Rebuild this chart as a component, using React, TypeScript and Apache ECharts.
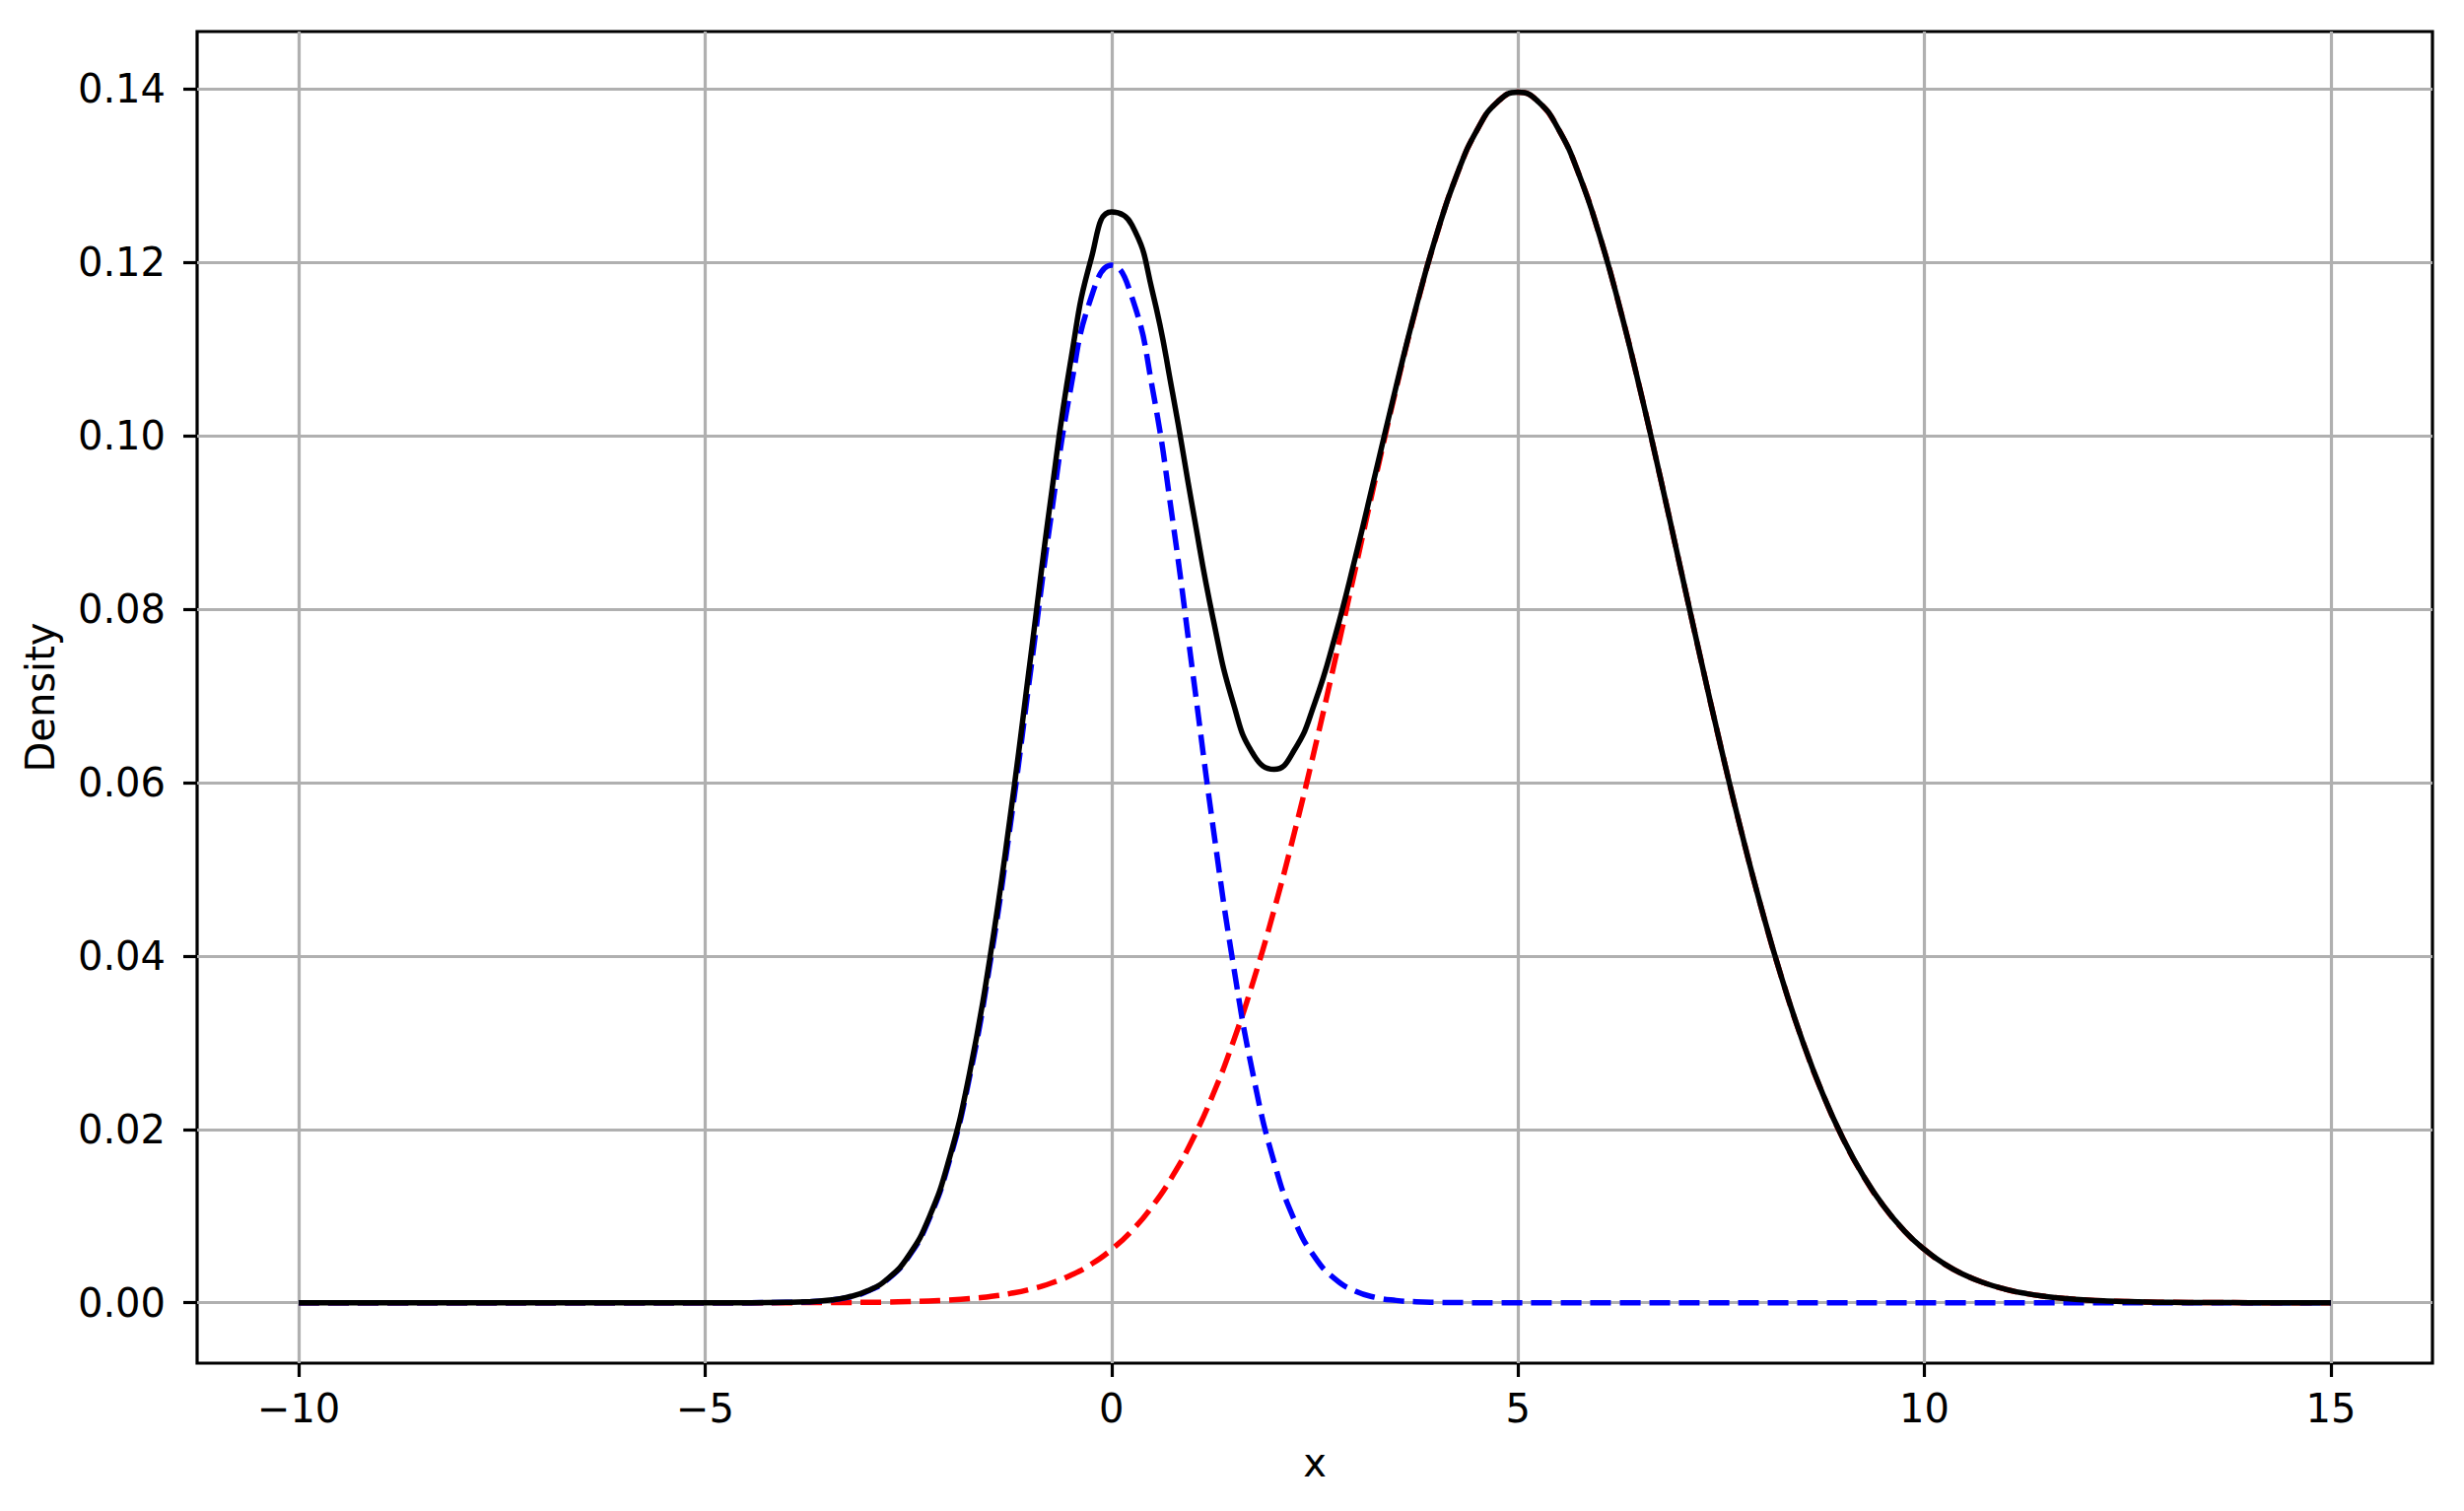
import { useEffect, useRef } from "react";
import * as echarts from "echarts";

const xs = [
  -10, -9, -8, -7, -6, -5, -4.5,
  -4, -3.75, -3.5, -3.25, -3, -2.75, -2.5, -2.25, -2, -1.75, -1.5, -1.25, -1,
  -0.75, -0.5, -0.25, 0, 0.25, 0.5, 0.75, 1, 1.25, 1.5, 1.75, 2, 2.25, 2.5,
  2.75, 3, 3.25, 3.5, 3.75, 4, 4.25, 4.5, 4.75, 5, 5.25, 5.5, 5.75, 6, 6.25,
  6.5, 6.75, 7, 7.25, 7.5, 7.75, 8, 8.25, 8.5, 8.75, 9, 9.25, 9.5, 9.75, 10,
  10.25, 10.5, 10.75, 11, 11.25, 11.5, 11.75, 12, 12.25, 12.5, 12.75, 13,
  13.5, 14, 14.5, 15,
];

// blue dashed component (peak near x = 0)
const blueComp = [
  0, 0, 0, 0, 0, 0, 0.000005,
  0.00004, 0.000106, 0.000262, 0.000609, 0.00133, 0.00273, 0.00526, 0.00952,
  0.0162, 0.02588, 0.03886, 0.05479, 0.07259, 0.09034, 0.10562, 0.116,
  0.11968, 0.116, 0.10562, 0.09034, 0.07259, 0.05479, 0.03886, 0.02588, 0.0162,
  0.00952, 0.00526, 0.00273, 0.00133, 0.000609, 0.000262, 0.000106, 0.00004,
  0.000014, 0.000005, 0, 0, 0, 0, 0, 0, 0, 0, 0, 0, 0, 0, 0, 0, 0, 0, 0, 0, 0,
  0, 0, 0, 0, 0, 0, 0, 0, 0, 0, 0, 0, 0, 0, 0, 0,
  0, 0, 0, 0,
];

// red dashed component (peak near x = 5)
const redComp = [
  0, 0, 0, 0, 0, 0, 0,
  0.0000056, 0.0000097, 0.0000167, 0.0000282, 0.0000468, 0.0000767, 0.000123,
  0.000196, 0.000305, 0.000469, 0.00071, 0.001058, 0.00155, 0.00224, 0.00318,
  0.00445, 0.00614, 0.00832, 0.01111, 0.01461, 0.0189, 0.02407, 0.0302,
  0.03729, 0.04533, 0.05426, 0.06393, 0.07416, 0.08469, 0.09522, 0.1054,
  0.11486, 0.12322, 0.13015, 0.13533, 0.13854, 0.13963, 0.13854, 0.13533,
  0.13015, 0.12322, 0.11486, 0.1054, 0.09522, 0.08469, 0.07416, 0.06393,
  0.05426, 0.04533, 0.03729, 0.0302, 0.02407, 0.0189, 0.01461, 0.01111,
  0.00832, 0.00614, 0.00445, 0.00318, 0.00224, 0.00155, 0.001058, 0.00071,
  0.000469, 0.000305, 0.000196, 0.000123, 0.0000767, 0.0000468,
  0.0000167, 0.0000056, 0, 0,
];

// black solid total density
const total = [
  0, 0, 0, 0, 0, 0, 0.000005,
  0.000046, 0.000116, 0.000279, 0.000637, 0.001377, 0.002807, 0.005383,
  0.009716, 0.016505, 0.026349, 0.03957, 0.055848, 0.07414, 0.09258, 0.1088,
  0.12045, 0.12582, 0.12432, 0.11673, 0.10495, 0.09149, 0.07886, 0.06906,
  0.06317, 0.06153, 0.06378, 0.06919, 0.07689, 0.08602, 0.09583, 0.10566,
  0.11497, 0.12326, 0.13016, 0.13534, 0.13854, 0.13963, 0.13854, 0.13533,
  0.13015, 0.12322, 0.11486, 0.1054, 0.09522, 0.08469, 0.07416, 0.06393,
  0.05426, 0.04533, 0.03729, 0.0302, 0.02407, 0.0189, 0.01461, 0.01111,
  0.00832, 0.00614, 0.00445, 0.00318, 0.00224, 0.00155, 0.001058, 0.00071,
  0.000469, 0.000305, 0.000196, 0.000123, 0.0000767, 0.0000468,
  0.0000167, 0.0000056, 0, 0,
];

const xTicks = [-10, -5, 0, 5, 10, 15];
const yTicks = [0, 0.02, 0.04, 0.06, 0.08, 0.1, 0.12, 0.14];

const FONT = "DejaVu Sans";
const GRID_COLOR = "#b0b0b0";

const pairs = (ys: number[]) => xs.map((x, i) => [x, ys[i]]);

export default function App() {
  const chartRef = useRef<HTMLDivElement>(null);

  useEffect(() => {
    if (!chartRef.current) return;
    const chart = echarts.init(chartRef.current, null, { renderer: "svg" });

    const lineSeries = (name: string, ys: number[], color: string, dashed: boolean) => ({
      name,
      type: "line",
      data: pairs(ys),
      smooth: true,
      showSymbol: false,
      symbol: "none",
      lineStyle: {
        color,
        width: 5.5,
        type: dashed ? [21, 9] : "solid",
        cap: "butt",
        join: "round",
      },
    });

    const tickStyle = { color: "#000", width: 3.2 };
    const labelStyle = { fontFamily: FONT, fontSize: 40, color: "#000" };

    chart.setOption({
      animation: false,
      backgroundColor: "#ffffff",
      grid: {
        left: 200,
        right: 32,
        top: 32,
        bottom: 150,
        show: true,
        borderColor: "#000000",
        borderWidth: 3.2,
        containLabel: false,
      },
      xAxis: {
        type: "value",
        min: -11.25,
        max: 16.25,
        name: "x",
        nameLocation: "middle",
        nameGap: 81,
        nameTextStyle: labelStyle,
        axisLine: { show: false, onZero: false },
        axisTick: { show: true, customValues: xTicks, length: 14, lineStyle: tickStyle },
        axisLabel: {
          ...labelStyle,
          customValues: xTicks,
          margin: 26,
          formatter: (v: number) => String(v).replace("-", "\u2212"),
        },
        splitLine: { show: true, lineStyle: { color: GRID_COLOR, width: 3.2 } },
      },
      yAxis: {
        type: "value",
        min: -0.00697,
        max: 0.14663,
        name: "Density",
        nameLocation: "middle",
        nameRotate: 90,
        nameGap: 139,
        nameTextStyle: labelStyle,
        axisLine: { show: false, onZero: false },
        axisTick: { show: true, customValues: yTicks, length: 14, lineStyle: tickStyle },
        axisLabel: {
          ...labelStyle,
          customValues: yTicks,
          margin: 32,
          formatter: (v: number) => v.toFixed(2),
        },
        splitLine: { show: true, lineStyle: { color: GRID_COLOR, width: 3.2 } },
      },
      series: [
        lineSeries("component 2", redComp, "#ff0000", true),
        lineSeries("component 1", blueComp, "#0000ff", true),
        lineSeries("mixture", total, "#000000", false),
      ],
    });

    return () => {
      chart.dispose();
    };
  }, []);

  return (
    <div
      ref={chartRef}
      style={{ position: "fixed", left: 0, top: 0, width: 2500, height: 1533 }}
    />
  );
}
